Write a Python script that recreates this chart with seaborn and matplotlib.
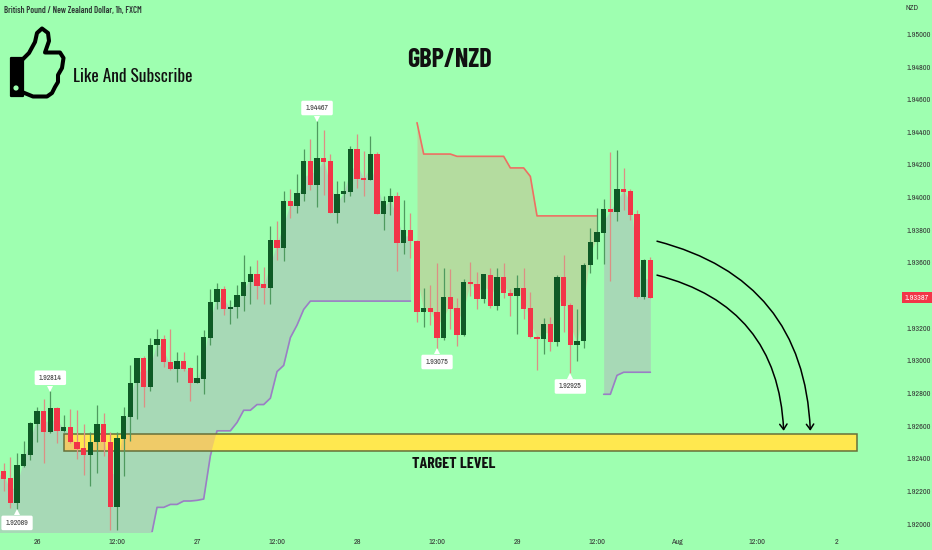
import numpy as np
import pandas as pd
import matplotlib
matplotlib.use("Agg")
import matplotlib.pyplot as plt
from matplotlib.patches import Circle, PathPatch, Rectangle
from matplotlib.path import Path
import seaborn as sns

opens = [1.92327, 1.92280, 1.92127, 1.92357, 1.92424, 1.92612, 1.92692, 1.92561, 1.92708, 1.92569,
         1.92594, 1.92504, 1.92463, 1.92422, 1.92502, 1.92612, 1.92504, 1.92106, 1.92520, 1.92655,
         1.92863, 1.93018, 1.92838, 1.93095, 1.93132, 1.92993, 1.92948, 1.93001, 1.92955, 1.92867,
         1.92891, 1.93142, 1.93360, 1.93438, 1.93315, 1.93327, 1.93400, 1.93480, 1.93533, 1.93468,
         1.93449, 1.93743, 1.93694, 1.93981, 1.93949, 1.94024, 1.94226, 1.94075, 1.94244, 1.94226,
         1.93908, 1.94022, 1.94036, 1.94295, 1.94122, 1.94110, 1.94265, 1.93902, 1.93973, 1.94012,
         1.93722, 1.93804, 1.93737, 1.93297, 1.93321, 1.93301, 1.93138, 1.93392, 1.93321, 1.93156,
         1.93484, 1.93472, 1.93380, 1.93527, 1.93333, 1.93511, 1.93415, 1.93396, 1.93447, 1.93321,
         1.93148, 1.93131, 1.93223, 1.93113, 1.93511, 1.93339, 1.93097, 1.93119, 1.93588, 1.93727,
         1.93786, 1.93929, 1.93910, 1.94055, 1.94041, 1.93898, 1.93388, 1.93619]
highs = [1.92371, 1.92412, 1.92435, 1.92506, 1.92626, 1.92714, 1.92765, 1.92814, 1.92714, 1.92667,
         1.92704, 1.92696, 1.92612, 1.92561, 1.92728, 1.92683, 1.92561, 1.92561, 1.92720, 1.92973,
         1.93020, 1.93030, 1.93138, 1.93197, 1.93158, 1.93193, 1.93056, 1.93056, 1.92963, 1.93034,
         1.93189, 1.93442, 1.93478, 1.93458, 1.93372, 1.93465, 1.93651, 1.93584, 1.93620, 1.93574,
         1.93824, 1.93855, 1.94042, 1.94053, 1.94146, 1.94297, 1.94358, 1.94467, 1.94416, 1.94269,
         1.94104, 1.94104, 1.94318, 1.94391, 1.94283, 1.94379, 1.94279, 1.94008, 1.94059, 1.94034,
         1.93987, 1.93906, 1.93740, 1.93447, 1.93464, 1.93600, 1.93570, 1.93560, 1.93382, 1.93502,
         1.93604, 1.93545, 1.93535, 1.93566, 1.93570, 1.93600, 1.93441, 1.93523, 1.93566, 1.93423,
         1.93150, 1.93260, 1.93268, 1.93525, 1.93651, 1.93356, 1.93315, 1.93600, 1.93814, 1.93937,
         1.93992, 1.94279, 1.94294, 1.94181, 1.94053, 1.93927, 1.93622, 1.93637]
lows = [1.92204, 1.92100, 1.92089, 1.92350, 1.92394, 1.92500, 1.92373, 1.92555, 1.92496, 1.92561,
        1.92496, 1.92398, 1.92300, 1.92235, 1.92312, 1.92414, 1.91966, 1.91966, 1.92292, 1.92510,
        1.92643, 1.92718, 1.92816, 1.93030, 1.92963, 1.92944, 1.92871, 1.92938, 1.92751, 1.92863,
        1.92795, 1.93095, 1.93315, 1.93279, 1.93223, 1.93264, 1.93304, 1.93351, 1.93376, 1.93351,
        1.93351, 1.93620, 1.93610, 1.93875, 1.93906, 1.93977, 1.94049, 1.93940, 1.94014, 1.93905,
        1.93845, 1.93971, 1.94008, 1.94059, 1.94008, 1.94105, 1.93900, 1.93800, 1.93896, 1.93549,
        1.93655, 1.93631, 1.93237, 1.93209, 1.93219, 1.93075, 1.93130, 1.93193, 1.93091, 1.93150,
        1.93396, 1.93315, 1.93356, 1.93325, 1.93311, 1.93386, 1.93274, 1.93166, 1.93258, 1.93140,
        1.92944, 1.93044, 1.93060, 1.93091, 1.93178, 1.92925, 1.92999, 1.93080, 1.93539, 1.93625,
        1.93594, 1.93488, 1.93855, 1.93927, 1.93865, 1.93385, 1.93376, 1.93385]
closes = [1.92276, 1.92127, 1.92361, 1.92429, 1.92616, 1.92692, 1.92561, 1.92708, 1.92569, 1.92596,
          1.92502, 1.92459, 1.92422, 1.92504, 1.92612, 1.92502, 1.92106, 1.92524, 1.92659, 1.92867,
          1.93018, 1.92840, 1.93097, 1.93132, 1.92993, 1.92948, 1.93001, 1.92948, 1.92867, 1.92893,
          1.93144, 1.93360, 1.93438, 1.93315, 1.93331, 1.93404, 1.93484, 1.93533, 1.93461, 1.93449,
          1.93743, 1.93694, 1.93981, 1.93949, 1.94030, 1.94226, 1.94075, 1.94244, 1.94220, 1.93908,
          1.94024, 1.94040, 1.94295, 1.94116, 1.94110, 1.94265, 1.93902, 1.93977, 1.94012, 1.93722,
          1.93804, 1.93733, 1.93298, 1.93321, 1.93297, 1.93138, 1.93392, 1.93317, 1.93156, 1.93482,
          1.93468, 1.93380, 1.93529, 1.93333, 1.93511, 1.93413, 1.93396, 1.93447, 1.93315, 1.93146,
          1.93131, 1.93223, 1.93113, 1.93511, 1.93337, 1.93097, 1.93121, 1.93590, 1.93729, 1.93790,
          1.93929, 1.93910, 1.94055, 1.94037, 1.93894, 1.93388, 1.93619, 1.93387]

# supertrend style stops, first bar of each run is given by the *_start value
support_a_start = 22
support_a = [1.91900, 1.92102, 1.92102, 1.92120, 1.92120, 1.92141, 1.92141, 1.92145, 1.92153, 1.92418,
             1.92571, 1.92571, 1.92571, 1.92622, 1.92697, 1.92697, 1.92732, 1.92732, 1.92771, 1.92934,
             1.92972, 1.93142, 1.93219, 1.93315, 1.93366, 1.93366, 1.93366, 1.93366, 1.93366, 1.93366,
             1.93366, 1.93366, 1.93366, 1.93366, 1.93366, 1.93366, 1.93366, 1.93366, 1.93366, 1.93366]
resist_start = 62
resist = [1.94459, 1.94267, 1.94267, 1.94267, 1.94267, 1.94267, 1.94253, 1.94253, 1.94253, 1.94253,
          1.94253, 1.94253, 1.94253, 1.94253, 1.94182, 1.94182, 1.94182, 1.94130, 1.93888, 1.93888,
          1.93888, 1.93888, 1.93888, 1.93888, 1.93888, 1.93888, 1.93888, 1.93888]
support_b_start = 90
support_b = [1.92795, 1.92795, 1.92911, 1.92930, 1.92930, 1.92930, 1.92930, 1.92930]

tick_prices = [1.92, 1.922, 1.924, 1.926, 1.928, 1.93, 1.932, 1.936, 1.938, 1.94, 1.942, 1.944, 1.946, 1.948, 1.95]
date_ticks = [5, 17, 29, 41, 53, 65, 77, 89, 101, 113, 125]
date_labels = ["26", "12:00", "27", "12:00", "28", "12:00", "29", "12:00", "Aug", "12:00", "2"]
target_top, target_bottom = 1.92550, 1.92450
target_first, target_last = 9, 128
last_price = 1.93387

# (bar, price, text, 1 = label above the wick / -1 = below)
pivot_labels = [(7, 1.92814, "1.92814", 1), (47, 1.94467, "1.94467", 1),
                (65, 1.93075, "1.93075", -1), (85, 1.92925, "1.92925", -1),
                (2, 1.92089, "1.92089", -1)]
forecast_arrows = [(98, 1.93733, 121, 1.92571), (98, 1.93525, 117, 1.92571)]

# thumb icon outline, pixels of the 932x550 picture
thumb_x = [22, 29, 35, 37, 42, 48, 49, 45, 60, 63.5, 62, 58, 58, 55, 52, 47, 33, 22]
thumb_y = [60, 53, 42, 33, 28.5, 33, 41, 52.5, 52.5, 58, 68, 75, 82, 87, 93, 96.5, 96.5, 92]

BG = "#9effb0"
GREEN = "#0f5a26"
RED = "#f23548"
SMALL = ["Archivo Narrow", "Barlow Condensed", "DejaVu Sans"]
NARROW = ["Barlow Condensed", "DejaVu Sans"]
DISPLAY = ["Oswald", "Barlow Condensed", "DejaVu Sans"]

sns.set_theme(style="white", rc={"axes.facecolor": BG, "figure.facecolor": BG})
plt.rcParams["font.family"] = SMALL

df = pd.DataFrame({"open": opens, "high": highs, "low": lows, "close": closes})
df["bar"] = np.arange(len(df))
df["mid"] = (df["open"] + df["close"]) / 2
df["up"] = df["close"] >= df["open"]

fig = plt.figure(figsize=(9.32, 5.5), dpi=100)
ax = fig.add_axes([0, 18 / 550, 1, 532 / 550])
ax.set_xlim(-0.555, 139.25)
ax.set_ylim(1.91951, 1.95211)

# shaded zones between the body midpoints and the stop lines
first_fill = ax.fill_between([-1] + list(df["bar"][:62]),
                             [df["mid"][0]] + list(df["mid"][:62]),
                             [1.9190] * (support_a_start + 1) + support_a,
                             color="#a7d9b6", lw=0, zorder=1)
resist_bars = df["bar"][resist_start:resist_start + len(resist)]
ax.fill_between(resist_bars, df["mid"][resist_bars], resist, color="#b4dc9f", lw=0, zorder=1)
support_bars = df["bar"][support_b_start:]
ax.fill_between(support_bars, df["mid"][support_bars], support_b, color="#a7d9b6", lw=0, zorder=1)

sns.lineplot(x=np.arange(support_a_start, support_a_start + len(support_a)), y=support_a,
             color="#9a7fc4", lw=1.2, ax=ax, zorder=2)
sns.lineplot(x=resist_bars.values, y=resist, color="#ee6f62", lw=1.2, ax=ax, zorder=2)
sns.lineplot(x=support_bars.values, y=support_b, color="#9a7fc4", lw=1.2, ax=ax, zorder=2)

# target zone, orange where it sits on the shaded area
box_kw = dict(xy=(target_first, target_bottom), width=target_last - target_first,
              height=target_top - target_bottom)
ax.add_patch(Rectangle(facecolor="#ffe84f", edgecolor="none", zorder=3, **box_kw))
overlap = Rectangle(facecolor="#efcb68", edgecolor="none", zorder=3, **box_kw)
ax.add_patch(overlap)
overlap.set_clip_path(first_fill.get_paths()[0], first_fill.get_transform())
ax.add_patch(Rectangle(facecolor="none", edgecolor="#66703a", lw=1.1, zorder=3, **box_kw))

# candles
colors = np.where(df["up"], GREEN, RED)
wick_colors = np.where(df["up"], "#4f9a5f", "#dc8f84")
ax.vlines(df["bar"], df["low"], df["high"], colors=wick_colors, lw=0.9, zorder=4)
ax.bar(df["bar"], (df["close"] - df["open"]).abs(), bottom=df[["open", "close"]].min(axis=1),
       width=0.76, color=colors, lw=0, zorder=5)

for x0, y0, x1, y1 in forecast_arrows:
    ax.annotate("", xy=(x1, y1), xytext=(x0, y0), zorder=6,
                arrowprops=dict(arrowstyle="->,head_length=0.32,head_width=0.22", color="black", lw=1.1,
                                shrinkA=0, shrinkB=0, connectionstyle="arc3,rad=-0.37"))

for bar, price, text, side in pivot_labels:
    ax.plot(bar, price + side * 0.00016, marker="v" if side > 0 else "^", ms=4.5, color="white",
            mew=0, zorder=7)
    ax.annotate(text, xy=(bar, price), xytext=(0, side * 7.5), textcoords="offset points",
                ha="center", va="bottom" if side > 0 else "top", fontsize=5.6, color="#333333",
                zorder=8, bbox=dict(boxstyle="round,pad=0.55,rounding_size=0.2", fc="white", ec="none"))

ax.yaxis.tick_right()
ax.set_yticks(tick_prices, [f"{p:.5f}" for p in tick_prices])
ax.tick_params(axis="y", length=0, pad=-18.5, labelsize=5.8, labelcolor="#333333")
ax.set_xticks(date_ticks, date_labels)
ax.tick_params(axis="x", length=0, pad=5, labelsize=5.8, labelcolor="#333333")
for label, text in zip(ax.get_xticklabels(), date_labels):
    if text == "Aug":
        label.set_fontweight("bold")
sns.despine(ax=ax, left=True, bottom=True, top=True, right=True)
ax.grid(False)

ax.annotate(f"{last_price:.5f}", xy=(1, last_price), xycoords=("axes fraction", "data"), xytext=(-11, 0),
            textcoords="offset points", ha="center", va="center", fontsize=5.8, color="white", zorder=9,
            bbox=dict(boxstyle="square,pad=0.35", fc=RED, ec="none"))

# overlay in picture pixels for the drawn notes
over = fig.add_axes([0, 0, 1, 1], facecolor="none")
over.set_xlim(0, 932)
over.set_ylim(550, 0)
over.axis("off")
over.text(4, 10.5, "British Pound / New Zealand Dollar, 1h, FXCM", fontsize=6.3, fontweight="semibold",
          family=NARROW, color="#2f3a36", va="center")
over.text(911.5, 8, "NZD", fontsize=5.6, color="#333333", ha="center", va="center")
over.text(449, 60, "GBP/NZD", fontsize=19, fontweight="bold", family=NARROW, color="#111111",
          ha="center", va="center")
over.text(73, 77, "Like And Subscribe", fontsize=12.5, family=DISPLAY, color="#111111", va="center")
over.text(454, 464, "TARGET LEVEL", fontsize=11.5, fontweight="bold", family=NARROW, color="#111111",
          ha="center", va="center")

thumb = Path(np.column_stack([thumb_x, thumb_y]))
over.add_patch(PathPatch(thumb, fc="none", ec="black", lw=2.9, joinstyle="round", capstyle="round"))
over.add_patch(Rectangle((10.5, 58), 12, 38, fc="black", ec="black", lw=1.6, joinstyle="round"))
over.add_patch(Circle((16, 88), 2.6, fc=BG, ec="none"))

fig.savefig("out.png", dpi=100, facecolor=BG)
